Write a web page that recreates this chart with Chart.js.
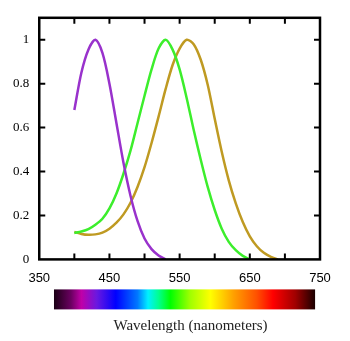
<!DOCTYPE html>
<html>
<head>
<meta charset="utf-8">
<script src="https://cdn.jsdelivr.net/npm/chart.js@4"></script>
<style>
  html, body { margin: 0; padding: 0; background: #fff; }
</style>
</head>
<body>
<canvas id="coneChart" width="350" height="341"></canvas>
<script>
    // Cone sensitivity curves, sampled every 10 nm from 400 nm
    var wavelengths = [400, 410, 420, 430, 440, 450, 460, 470, 480, 490, 500, 510, 520, 530, 540,
                       550, 560, 570, 580, 590, 600, 610, 620, 630, 640, 650, 660, 670, 680, 690];
    var sCone = [0.68, 0.85, 0.955, 1.00, 0.94, 0.80, 0.62, 0.44, 0.29, 0.175, 0.095, 0.047, 0.018, 0.0];
    var mCone = [0.12, 0.127, 0.138, 0.158, 0.185, 0.232, 0.30, 0.39, 0.495, 0.62, 0.745, 0.865, 0.96, 1.00, 0.955,
                 0.865, 0.735, 0.59, 0.455, 0.33, 0.225, 0.14, 0.08, 0.042, 0.016, 0.0];
    var lCone = [0.125, 0.116, 0.112, 0.114, 0.122, 0.14, 0.167, 0.205, 0.258, 0.33, 0.42, 0.53, 0.65, 0.775, 0.885,
                 0.96, 1.00, 0.98, 0.91, 0.795, 0.64, 0.49, 0.36, 0.255, 0.17, 0.105, 0.06, 0.03, 0.012, 0.0];

    var xTicks = [350, 400, 450, 500, 550, 600, 650, 700, 750];
    var xLabels = [350, 450, 550, 650, 750];
    var yTicks = [0, 0.2, 0.4, 0.6, 0.8, 1];

    // colour bar under the axis (wavelength stops)
    var spectrumStops = [371, 395, 410, 432, 459, 490, 505, 520, 537, 565, 594, 627, 660, 683, 715, 743];
    var spectrumColors = ['#1a0014', '#6a0060', '#c000a8', '#6a18e0', '#0000ff', '#0078ff', '#00f0ff', '#00ff90',
                          '#00ff00', '#a0ff00', '#ffff00', '#ffa000', '#ff5000', '#ff0000', '#a00000', '#1a0000'];
    var axisCaption = 'Wavelength (nanometers)';

    function toPoints(values) {
        return values.map(function (v, i) { return { x: wavelengths[i], y: v }; });
    }

    // box frame, inward ticks, colour bar and caption
    var framePlugin = {
        id: 'frame',
        afterDraw: function (chart) {
            var ctx = chart.ctx;
            var a = chart.chartArea;
            var xs = chart.scales.x;
            var ys = chart.scales.y;
            ctx.save();
            ctx.strokeStyle = '#000';
            ctx.lineWidth = 2;
            ctx.beginPath();
            xTicks.forEach(function (v) {
                if (v === 350 || v === 750) return;
                var px = xs.getPixelForValue(v);
                ctx.moveTo(px, a.bottom); ctx.lineTo(px, a.bottom - 6);
                ctx.moveTo(px, a.top); ctx.lineTo(px, a.top + 6);
            });
            yTicks.forEach(function (v) {
                if (v === 0) return;
                var py = ys.getPixelForValue(v);
                ctx.moveTo(a.left, py); ctx.lineTo(a.left + 6, py);
                ctx.moveTo(a.right, py); ctx.lineTo(a.right - 6, py);
            });
            ctx.stroke();
            ctx.lineWidth = 2.5;
            ctx.strokeRect(a.left, a.top, a.right - a.left, a.bottom - a.top);

            // spectrum bar
            var x0 = xs.getPixelForValue(spectrumStops[0]);
            var x1 = xs.getPixelForValue(spectrumStops[spectrumStops.length - 1]);
            var grad = ctx.createLinearGradient(x0, 0, x1, 0);
            spectrumStops.forEach(function (w, i) {
                grad.addColorStop((w - spectrumStops[0]) / (spectrumStops[spectrumStops.length - 1] - spectrumStops[0]), spectrumColors[i]);
            });
            ctx.fillStyle = grad;
            ctx.fillRect(x0, a.bottom + 30, x1 - x0, 20);

            ctx.fillStyle = '#222';
            ctx.font = '15px "Liberation Serif"';
            ctx.textAlign = 'center';
            ctx.textBaseline = 'alphabetic';
            ctx.fillText(axisCaption, (x0 + x1) / 2 + 6, a.bottom + 71);
            ctx.restore();
        }
    };

    var ctxCone = document.getElementById('coneChart').getContext('2d');
    new Chart(ctxCone, {
        type: 'line',
        data: {
            datasets: [{
                label: 'S',
                data: toPoints(sCone),
                borderColor: '#9932cc'
            }, {
                label: 'M',
                data: toPoints(mCone),
                borderColor: '#3cee2c'
            }, {
                label: 'L',
                data: toPoints(lCone),
                borderColor: '#bf9a22'
            }]
        },
        options: {
            responsive: false,
            animation: false,
            layout: {
                padding: { top: 17, right: 30, left: 3, bottom: 44 }
            },
            elements: {
                point: { radius: 0 },
                line: { borderWidth: 2.5, fill: false, tension: 0.3 }
            },
            scales: {
                x: {
                    type: 'linear',
                    min: 350,
                    max: 750,
                    afterBuildTicks: function (scale) {
                        scale.ticks = xTicks.map(function (v) { return { value: v }; });
                    },
                    grid: { display: false, drawTicks: false },
                    border: { display: false },
                    ticks: {
                        autoSkip: false,
                        maxRotation: 0,
                        padding: 11,
                        color: '#000',
                        font: { family: 'Liberation Sans', size: 13 },
                        callback: function (v) { return xLabels.indexOf(v) >= 0 ? String(v) : ''; }
                    }
                },
                y: {
                    min: 0,
                    max: 1.1,
                    afterBuildTicks: function (scale) {
                        scale.ticks = yTicks.map(function (v) { return { value: v }; });
                    },
                    grid: { display: false, drawTicks: false },
                    border: { display: false },
                    ticks: {
                        padding: 10,
                        color: '#000',
                        font: { family: 'Liberation Serif', size: 13 },
                        callback: function (v) { return String(+v.toFixed(1)); }
                    }
                }
            },
            plugins: {
                legend: { display: false },
                tooltip: { enabled: false }
            }
        },
        plugins: [framePlugin]
    });
</script>
</body>
</html>
